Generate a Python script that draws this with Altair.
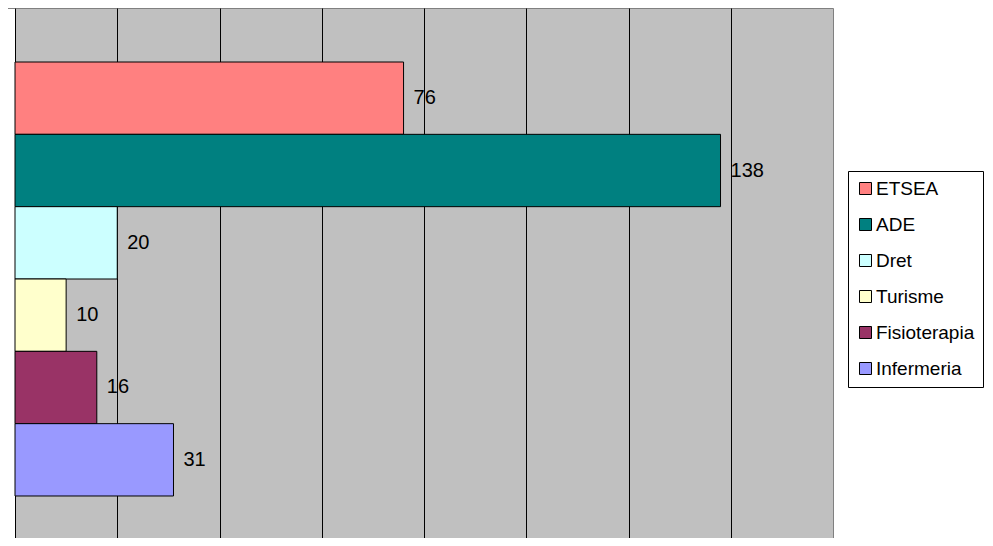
import altair as alt
import pandas as pd

courses = ["ETSEA", "ADE", "Dret", "Turisme", "Fisioterapia", "Infermeria"]
values = [76, 138, 20, 10, 16, 31]
colors = ["#FF8080", "#008080", "#CCFFFF", "#FFFFCC", "#993366", "#9999FF"]
grid_values = [20, 40, 60, 80, 100, 120, 140]

df = pd.DataFrame({"course": courses, "value": values})

FONT = "Liberation Sans"

y_scale = alt.Scale(domain=courses, paddingInner=0, paddingOuter=0.6636, align=0.5625)

y_enc = alt.Y(
    "course:N",
    sort=courses,
    scale=y_scale,
    axis=alt.Axis(labels=False, ticks=False, title=None, domainColor="#000000", domainWidth=1, grid=False),
)
x_enc = alt.X(
    "value:Q",
    scale=alt.Scale(domain=[0, 160], nice=False, zero=True),
    axis=alt.Axis(values=grid_values, labels=False, ticks=False, domain=False, title=None,
                  grid=True, gridColor="#000000", gridWidth=1, gridOpacity=1),
)

bars = alt.Chart(df).mark_bar(stroke="#000000", strokeWidth=1).encode(
    x=x_enc,
    y=y_enc,
    color=alt.Color(
        "course:N",
        sort=courses,
        scale=alt.Scale(domain=courses, range=colors),
        legend=alt.Legend(
            title=None, orient="none", legendX=833, legendY=163,
            symbolType="square", symbolSize=144, symbolStrokeColor="#000000", symbolStrokeWidth=1,
            labelFont=FONT, labelFontSize=19, labelColor="#000000", labelOffset=1,
            rowPadding=16, padding=8, strokeColor="#000000", fillColor="#FFFFFF",
            labelLimit=300,
        ),
    ),
)

labels = alt.Chart(df).mark_text(
    align="left", baseline="middle", dx=10, font=FONT, fontSize=20, color="#000000"
).encode(
    x=alt.X("value:Q"),
    y=alt.Y("course:N", sort=courses),
    text=alt.Text("value:Q"),
)

tick = alt.Chart(df).mark_rule(color="#808080", strokeWidth=1).encode(
    x=alt.value(-7), x2=alt.value(0), y=alt.value(0)
)

chart = alt.layer(bars, labels, tick).properties(
    width=818,
    height=530,
    autosize=alt.AutoSizeParams(type="none"),
    padding={"left": 7, "top": 0, "right": 152, "bottom": 0},
).configure_view(
    fill="#C0C0C0", stroke="#808080", strokeWidth=1
)

chart.save("out.html", embed_options={"renderer": "svg", "actions": False})
